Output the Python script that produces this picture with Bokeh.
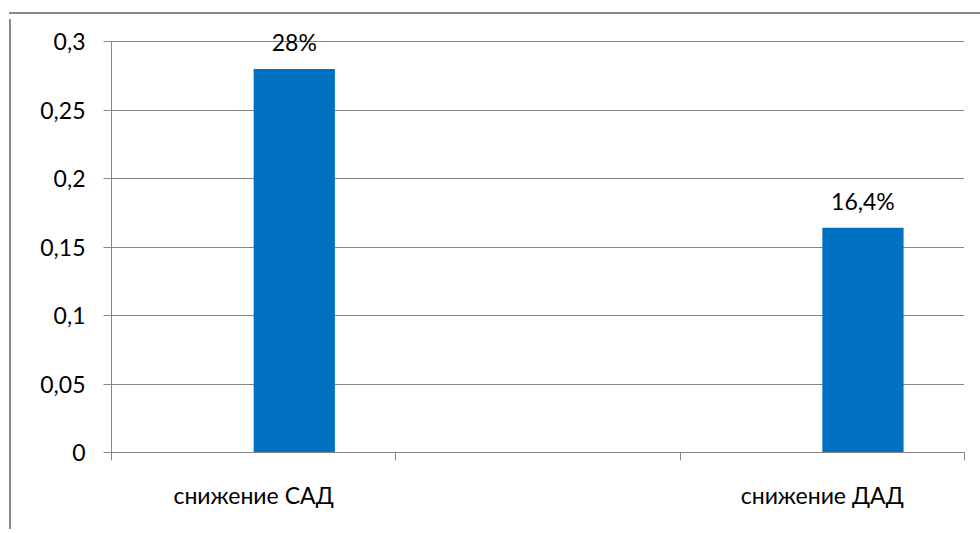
from bokeh.plotting import figure
from bokeh.models import FixedTicker, Range1d, ColumnDataSource, Div
from bokeh.layouts import column
from bokeh.core.properties import value
from bokeh.embed import file_html
from bokeh.resources import INLINE

categories = ["снижение САД", "", "снижение ДАД"]
bar_cat_index = [0, 2]
bar_values = [0.28, 0.164]
bar_labels = ["28%", "16,4%"]
y_ticks = [0, 0.05, 0.1, 0.15, 0.2, 0.25, 0.3]
y_tick_labels = ["0", "0,05", "0,1", "0,15", "0,2", "0,25", "0,3"]

FONT = "Lato"
FS = "23px"
GRAY = "#868686"
BORDER = "#8a8a8a"

n_series = 2
gap = 1.5
bw = 1.0 / (n_series + gap)
bar_x = [i + 0.5 + bw / 2 for i in bar_cat_index]

y_max = y_ticks[-1]
frame_h = 433          # plot area extended upward so the top data label is not clipped
axis_h = 411
y_end = y_max * frame_h / axis_h

p = figure(width=966, height=510, output_backend="svg", toolbar_location=None,
           x_range=Range1d(0, len(categories)), y_range=Range1d(0, y_end),
           frame_width=851, frame_height=frame_h,
           min_border_left=100, min_border_top=0, min_border_right=15, min_border_bottom=77)
p.outline_line_color = None
p.background_fill_color = "white"
p.border_fill_color = "white"
p.styles = {"margin-left": "9px", "border-left": "2px solid " + BORDER}

src = ColumnDataSource(dict(x=bar_x, top=bar_values, label=bar_labels))
p.vbar(x="x", top="top", width=bw, bottom=0, source=src, color="#0070C0", line_color=None)
p.text(x="x", y="top", text="label", source=src, text_align="center",
       text_baseline="middle", y_offset=-27, text_font=value(FONT),
       text_font_size=FS, text_color="black")

# y axis
ya = p.yaxis[0]
ya.ticker = FixedTicker(ticks=y_ticks)
ya.bounds = (0, y_max)
ya.major_label_overrides = {t: l for t, l in zip(y_ticks, y_tick_labels)}
ya.axis_line_color = GRAY
ya.major_tick_line_color = GRAY
ya.major_tick_in = 0
ya.major_tick_out = 8
ya.minor_tick_line_color = None
ya.major_label_standoff = 18
ya.major_label_text_font = FONT
ya.major_label_text_font_size = FS
ya.major_label_text_color = "black"

# x axis
xa = p.xaxis[0]
cat_centers = [i + 0.5 for i, c in enumerate(categories) if c]
xa.ticker = FixedTicker(ticks=cat_centers, minor_ticks=list(range(len(categories) + 1)))
xa.major_label_overrides = {i + 0.5: c for i, c in enumerate(categories) if c}
xa.axis_line_color = GRAY
xa.major_tick_line_color = None
xa.major_tick_in = 0
xa.major_tick_out = 0
xa.minor_tick_line_color = GRAY
xa.minor_tick_in = 0
xa.minor_tick_out = 8
xa.major_label_standoff = 20
xa.major_label_text_font = FONT
xa.major_label_text_font_size = FS
xa.major_label_text_color = "black"

p.xgrid.grid_line_color = None
p.ygrid.ticker = FixedTicker(ticks=y_ticks)
p.ygrid.grid_line_color = GRAY
p.ygrid.grid_line_width = 1

# top edge of the (cropped) chart border
top_line = Div(text="", width=971, height=2,
               styles={"margin-left": "9px", "margin-top": "12px",
                       "background-color": BORDER})

layout = column(top_line, p, spacing=0)
open("out.html", "w").write(file_html(layout, INLINE))
